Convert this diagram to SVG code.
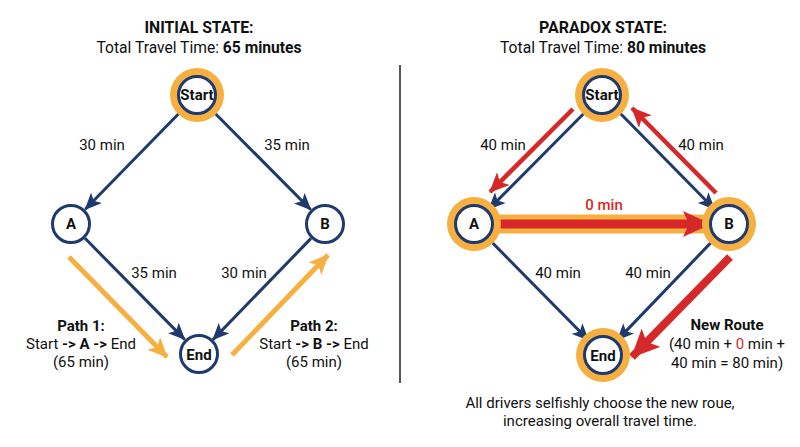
<svg xmlns="http://www.w3.org/2000/svg" width="800" height="447" viewBox="0 0 800 447">
<defs>
<marker id="navyHead" markerUnits="userSpaceOnUse" markerWidth="17" markerHeight="15" refX="16" refY="7.5" orient="auto"><path d="M0,0 L17,7.5 L0,15 L4,7.5 Z" fill="#1E3A6E"/></marker>
<marker id="orangeHead" markerUnits="userSpaceOnUse" markerWidth="20" markerHeight="18" refX="19" refY="9" orient="auto"><path d="M0,0 L20,9 L0,18 L5,9 Z" fill="#F5B041"/></marker>
<marker id="redHead" markerUnits="userSpaceOnUse" markerWidth="20" markerHeight="18" refX="19" refY="9" orient="auto"><path d="M0,0 L20,9 L0,18 L5,9 Z" fill="#D62828"/></marker>
<marker id="redBig" markerUnits="userSpaceOnUse" markerWidth="28" markerHeight="26" refX="27" refY="13" orient="auto"><path d="M0,0 L28,13 L0,26 L6,13 Z" fill="#D62828"/></marker>
</defs>
<style>
text{font-family:Roboto,"Liberation Sans",sans-serif;fill:#111;}
.title{font-size:16.5px;font-weight:700;text-anchor:middle;}
.sub{font-size:16.5px;text-anchor:middle;}
.lbl{font-size:15px;text-anchor:middle;}
.nl{font-size:15px;font-weight:700;text-anchor:middle;}
.b{font-weight:700;}
.node{fill:#fff;stroke:#1E3A6E;stroke-width:3;}
.ring{fill:#F5B041;}
.navy{stroke:#1E3A6E;stroke-width:3;fill:none;marker-end:url(#navyHead);}
.org{stroke:#F5B041;stroke-width:5;fill:none;marker-end:url(#orangeHead);}
.red{stroke:#D62828;stroke-width:4.5;fill:none;marker-end:url(#redHead);}
</style>
<rect width="800" height="447" fill="#fff"/>
<text class="title" x="199" y="33" textLength="109" lengthAdjust="spacingAndGlyphs">INITIAL STATE:</text>
<text class="sub" x="199" y="53" textLength="205" lengthAdjust="spacingAndGlyphs">Total Travel Time: <tspan class="b">65 minutes</tspan></text>
<text class="title" x="603" y="33" textLength="128" lengthAdjust="spacingAndGlyphs">PARADOX STATE:</text>
<text class="sub" x="603" y="53" textLength="206" lengthAdjust="spacingAndGlyphs">Total Travel Time: <tspan class="b">80 minutes</tspan></text>
<line x1="400" y1="65" x2="400" y2="383" stroke="#555570" stroke-width="2"/>
<g id="connectors">
<line class="navy" x1="183" y1="109.3" x2="85.3" y2="209.3"/>
<line class="navy" x1="211" y1="109.2" x2="310.6" y2="209.5"/>
<line class="navy" x1="85" y1="238.3" x2="184.6" y2="339.4"/>
<line class="navy" x1="311" y1="238.4" x2="213" y2="339.6"/>
<line class="org" x1="69" y1="257" x2="167" y2="357"/>
<line class="org" x1="232" y1="355" x2="328" y2="255"/>
<line stroke="#F5B041" stroke-width="19" x1="474" y1="224" x2="729" y2="224"/>
<line stroke="#D62828" stroke-width="9" x1="490" y1="224" x2="710" y2="224" marker-end="url(#redBig)"/>
<line class="navy" x1="588" y1="109.2" x2="489" y2="209"/>
<line class="navy" x1="616" y1="109" x2="714.3" y2="209"/>
<line class="navy" x1="488" y1="238.3" x2="588.3" y2="340"/>
<line class="navy" x1="715" y1="238.4" x2="617.6" y2="339.9"/>
<line class="red" x1="573" y1="109" x2="490" y2="192"/>
<line class="red" x1="716" y1="193" x2="632" y2="108"/>
<line stroke="#D62828" stroke-width="8" x1="730" y1="257" x2="632" y2="357" marker-end="url(#redBig)"/>
</g>
<g id="start1"><circle class="ring" cx="197" cy="95" r="27"/><circle class="node" cx="197" cy="95" r="18.5"/><text class="nl" x="197" y="100">Start</text></g>
<g id="a1"><circle class="node" cx="71" cy="224" r="18.5"/><text class="nl" x="71" y="229">A</text></g>
<g id="b1"><circle class="node" cx="325" cy="224" r="18.5"/><text class="nl" x="325" y="229">B</text></g>
<g id="end1"><circle class="node" cx="199" cy="354" r="18.5"/><text class="nl" x="199" y="359.5">End</text></g>
<g id="start2"><circle class="ring" cx="602" cy="95" r="27"/><circle class="node" cx="602" cy="95" r="18.5"/><text class="nl" x="602" y="100">Start</text></g>
<g id="a2"><circle class="ring" cx="474" cy="224" r="27"/><circle class="node" cx="474" cy="224" r="18.5"/><text class="nl" x="474" y="229">A</text></g>
<g id="b2"><circle class="ring" cx="729" cy="224" r="27"/><circle class="node" cx="729" cy="224" r="18.5"/><text class="nl" x="729" y="229">B</text></g>
<g id="end2"><circle class="ring" cx="603" cy="355" r="27"/><circle class="node" cx="603" cy="355" r="18.5"/><text class="nl" x="603" y="360.5">End</text></g>
<g id="labels">
<text class="lbl" x="102" y="150">30 min</text>
<text class="lbl" x="287" y="150">35 min</text>
<text class="lbl" x="154" y="278">35 min</text>
<text class="lbl" x="244" y="278">30 min</text>
<text class="lbl" x="81" y="331"><tspan class="b">Path 1:</tspan></text>
<text class="lbl" x="81" y="349">Start <tspan class="b">-&gt; A -&gt;</tspan> End</text>
<text class="lbl" x="81" y="367">(65 min)</text>
<text class="lbl" x="314" y="331"><tspan class="b">Path 2:</tspan></text>
<text class="lbl" x="314" y="349">Start <tspan class="b">-&gt; B -&gt;</tspan> End</text>
<text class="lbl" x="314" y="367">(65 min)</text>
<text class="lbl" x="503" y="150">40 min</text>
<text class="lbl" x="701" y="150">40 min</text>
<text class="lbl" x="604" y="210" style="fill:#D62828;font-weight:500">0 min</text>
<text class="lbl" x="558" y="278">40 min</text>
<text class="lbl" x="648" y="278">40 min</text>
<text class="lbl" x="727" y="330"><tspan class="b">New Route</tspan></text>
<text class="lbl" x="727" y="349">(40 min + <tspan style="fill:#D62828">0</tspan> min +</text>
<text class="lbl" x="727" y="368">40 min = 80 min)</text>
<text class="lbl" x="600" y="408">All drivers selfishly choose the new roue,</text>
<text class="lbl" x="600" y="426">increasing overall travel time.</text>
</g>
</svg>
